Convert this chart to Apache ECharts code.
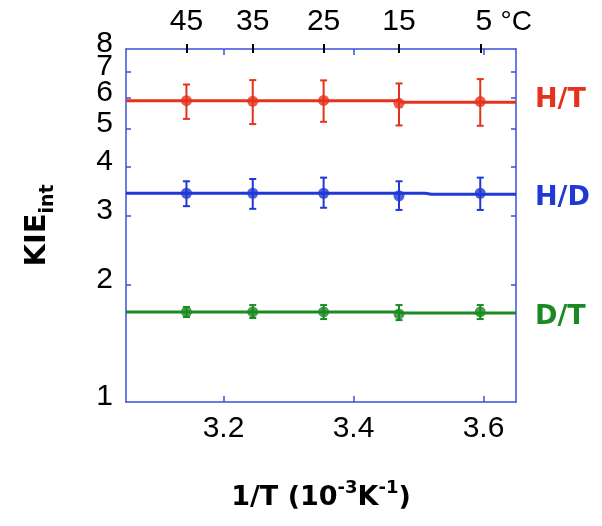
<!DOCTYPE html>
<html>
<head>
<meta charset="utf-8">
<script src="https://cdn.jsdelivr.net/npm/echarts@6/dist/echarts.min.js"></script>
<style>
html,body{margin:0;padding:0;background:#fff;}
#main{width:602px;height:526px;}
</style>
</head>
<body>
<div id="main"></div>
<script>
// 1/T (10^-3 K^-1) and the matching temperatures
var invT = [3.143, 3.245, 3.354, 3.470, 3.595];
var tempC = [45, 35, 25, 15, 5];
var xTicks = [3.2, 3.4, 3.6];
var yLabels = [1, 2, 3, 4, 5, 6];
var yLabelsTop = [7, 8];   // crowded, drawn on their own axes
var yMinor = [2, 3, 4, 5, 6, 7];

// H/T
var htMean = [5.90, 5.88, 5.91, 5.81, 5.87];
var htLow = [5.30, 5.14, 5.21, 5.10, 5.09];
var htHigh = [6.49, 6.66, 6.65, 6.53, 6.70];
var htFitX = [3.05, 3.47, 3.475, 3.65];
var htFitY = [5.90, 5.90, 5.85, 5.85];
// H/D
var hdMean = [3.42, 3.42, 3.42, 3.37, 3.42];
var hdLow = [3.17, 3.12, 3.14, 3.10, 3.10];
var hdHigh = [3.67, 3.72, 3.75, 3.67, 3.75];
var hdFitX = [3.05, 3.51, 3.52, 3.65];
var hdFitY = [3.42, 3.42, 3.40, 3.40];
// D/T
var dtMean = [1.70, 1.70, 1.70, 1.68, 1.70];
var dtLow = [1.65, 1.64, 1.63, 1.62, 1.63];
var dtHigh = [1.75, 1.77, 1.77, 1.77, 1.77];
var dtFitX = [3.05, 3.47, 3.475, 3.65];
var dtFitY = [1.70, 1.70, 1.69, 1.69];

var RED = '#e5321c', BLUE = '#1f38d6', GREEN = '#1b8a22', AXIS = '#3a52d8';
var NUMFONT = 'Liberation Sans, Arial, sans-serif';
var BOLDFONT = 'DejaVu Sans, sans-serif';

function pairs(xs, ys) {
	return xs.map(function (x, i) { return [x, ys[i]]; });
}
function bars(lo, hi) {
	return invT.map(function (x, i) { return [x, lo[i], hi[i]]; });
}
//误差棒
function renderErr(params, api) {
	var x = api.value(0);
	var top = api.coord([x, api.value(2)]);
	var bot = api.coord([x, api.value(1)]);
	var w = 3.5;
	var st = { stroke: api.visual('color'), lineWidth: 2 };
	return {
		type: 'group',
		children: [
			{ type: 'line', shape: { x1: top[0], y1: top[1], x2: bot[0], y2: bot[1] }, style: st },
			{ type: 'line', shape: { x1: top[0] - w, y1: top[1], x2: top[0] + w, y2: top[1] }, style: st },
			{ type: 'line', shape: { x1: bot[0] - w, y1: bot[1], x2: bot[0] + w, y2: bot[1] }, style: st }
		]
	};
}
function errSeries(color, lo, hi) {
	return {
		type: 'custom',
		renderItem: renderErr,
		itemStyle: { color: color },
		encode: { x: 0, y: [1, 2] },
		data: bars(lo, hi),
		z: 4
	};
}
function pointSeries(color, mean) {
	return {
		type: 'scatter',
		symbol: 'circle',
		symbolSize: 11,
		itemStyle: { color: color },
		data: pairs(invT, mean),
		z: 5
	};
}
function fitSeries(name, color, xs, ys, dy) {
	return {
		name: name,
		type: 'line',
		showSymbol: false,
		lineStyle: { color: color, width: 3 },
		data: pairs(xs, ys),
		z: 3,
		endLabel: {
			show: true,
			formatter: '{a}',
			color: color,
			fontFamily: BOLDFONT,
			fontWeight: 'bold',
			fontSize: 27,
			distance: 19,
			offset: [0, dy]
		}
	};
}
function yLabelStyle(vals) {
	return {
		customValues: vals,
		showMinLabel: true,
		showMaxLabel: true,
		hideOverlap: false,
		margin: 13,
		lineHeight: 10,
		verticalAlign: 'bottom',
		fontSize: 30,
		fontFamily: NUMFONT,
		color: '#000'
	};
}
// 只放一个刻度标签的左轴
function yLabelAxis(v) {
	return {
		type: 'log',
		logBase: 10,
		position: 'left',
		min: 1,
		max: 8,
		axisLine: { show: false },
		axisTick: { show: false },
		axisLabel: yLabelStyle([v]),
		splitLine: { show: false }
	};
}

var option = {
	backgroundColor: '#fff',
	animation: false,
	grid: { left: 126, right: 86, top: 49, bottom: 124 },
	xAxis: [{
		type: 'value',
		position: 'bottom',
		min: 3.05,
		max: 3.65,
		name: '{n|1/T (10}{s|-3}{n|K}{s|-1}{n|)}',
		nameLocation: 'middle',
		nameGap: 77,
		nameTextStyle: {
			rich: {
				n: { fontFamily: BOLDFONT, fontWeight: 'bold', fontSize: 27, color: '#000', verticalAlign: 'bottom' },
				s: { fontFamily: BOLDFONT, fontWeight: 'bold', fontSize: 18, color: '#000', verticalAlign: 'bottom', padding: [0, 0, 14, 0] }
			}
		},
		axisLine: { lineStyle: { color: AXIS, width: 1.5 } },
		axisTick: { inside: true, length: 6, customValues: xTicks, lineStyle: { color: AXIS, width: 1.5 } },
		axisLabel: { customValues: xTicks, margin: 12, fontSize: 30, fontFamily: NUMFONT, color: '#000' },
		splitLine: { show: false }
	}, {
		type: 'value',
		position: 'top',
		min: 3.05,
		max: 3.65,
		axisLine: { lineStyle: { color: AXIS, width: 1.5 } },
		axisTick: { inside: true, length: 6, customValues: xTicks, lineStyle: { color: AXIS, width: 1.5 } },
		axisLabel: { show: false },
		splitLine: { show: false }
	}, {
		type: 'value',
		position: 'top',
		min: 3.05,
		max: 3.65,
		axisLine: { show: false },
		axisTick: { inside: false, length: 5, customValues: invT, lineStyle: { color: '#000', width: 2 } },
		axisLabel: {
			customValues: invT,
			margin: 12,
			fontSize: 30,
			fontFamily: NUMFONT,
			color: '#000',
			formatter: function (v) {
				var k = 0;
				for (var i = 1; i < invT.length; i++) {
					if (Math.abs(invT[i] - v) < Math.abs(invT[k] - v)) k = i;
				}
				if (k === invT.length - 1) return '{p|}' + tempC[k] + ' {d|°C}';
				return String(tempC[k]);
			},
			rich: {
				p: { width: 47 },
				d: { fontSize: 28, fontFamily: NUMFONT, color: '#000' }
			}
		},
		splitLine: { show: false }
	}, {
		type: 'value',
		position: 'top',
		min: 3.05,
		max: 3.65,
		axisLine: { show: false },
		axisTick: { inside: true, length: 4, customValues: invT, lineStyle: { color: '#000', width: 2 } },
		axisLabel: { show: false },
		splitLine: { show: false }
	}],
	yAxis: [{
		type: 'log',
		logBase: 10,
		position: 'left',
		min: 1,
		max: 8,
		name: '{k|KIE}{i|int}',
		nameLocation: 'middle',
		nameRotate: 90,
		nameGap: 68,
		nameTextStyle: {
			rich: {
				k: { fontFamily: BOLDFONT, fontWeight: 'bold', fontSize: 29, color: '#000', verticalAlign: 'bottom', padding: [0, 0, 6, 0] },
				i: { fontFamily: BOLDFONT, fontWeight: 'bold', fontSize: 19, color: '#000', verticalAlign: 'bottom' }
			}
		},
		axisLine: { lineStyle: { color: AXIS, width: 1.5 } },
		axisTick: { inside: true, length: 5, customValues: yMinor, lineStyle: { color: AXIS, width: 1.5 } },
		axisLabel: yLabelStyle(yLabels),
		splitLine: { show: false }
	}, {
		type: 'log',
		logBase: 10,
		position: 'right',
		min: 1,
		max: 8,
		axisLine: { lineStyle: { color: AXIS, width: 1.5 } },
		axisTick: { inside: true, length: 5, customValues: yMinor, lineStyle: { color: AXIS, width: 1.5 } },
		axisLabel: { show: false },
		splitLine: { show: false }
	}, yLabelAxis(yLabelsTop[0]), yLabelAxis(yLabelsTop[1])],
	series: [
		fitSeries('H/T', RED, htFitX, htFitY, -2),
		fitSeries('H/D', BLUE, hdFitX, hdFitY, 4),
		fitSeries('D/T', GREEN, dtFitX, dtFitY, 4),
		errSeries(RED, htLow, htHigh),
		errSeries(BLUE, hdLow, hdHigh),
		errSeries(GREEN, dtLow, dtHigh),
		pointSeries(RED, htMean),
		pointSeries(BLUE, hdMean),
		pointSeries(GREEN, dtMean)
	]
};

echarts.init(document.getElementById('main')).setOption(option);
</script>
</body>
</html>
